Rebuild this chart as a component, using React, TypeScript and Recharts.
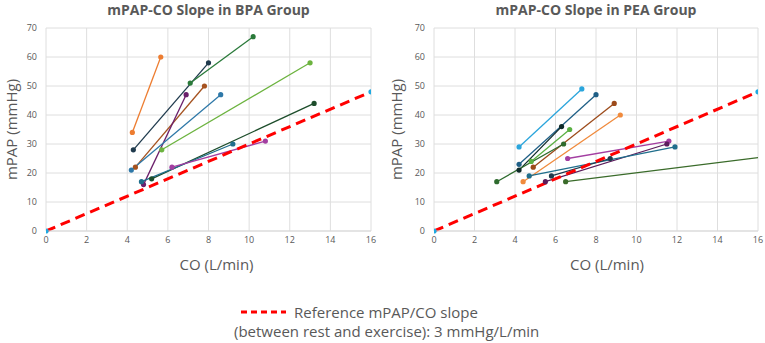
import React from 'react';
import { LineChart, Line, XAxis, YAxis, CartesianGrid } from 'recharts';

// BPA group, one segment per patient: rest -> exercise
const BPA_CO_REST = [4.25, 4.3, 7.1, 4.4, 4.8, 4.2, 5.7, 5.2, 4.7, 6.2];
const BPA_CO_EXERCISE = [5.65, 8.0, 10.2, 7.8, 6.9, 8.6, 13.0, 13.2, 9.2, 10.8];
const BPA_MPAP_REST = [34, 28, 51, 22, 16, 21, 28, 18, 17, 22];
const BPA_MPAP_EXERCISE = [60, 58, 67, 50, 47, 47, 58, 44, 30, 31];
const BPA_COLORS = [
  '#ed7d31', // orange
  '#1f3a4d', // navy
  '#2a7a3a', // green
  '#a5521f', // brown
  '#6b1f6b', // plum
  '#2e78a8', // blue
  '#6cb33f', // light green
  '#1d4d2b', // dark green
  '#1f6e8c', // teal
  '#a33ea1', // magenta
];

// PEA group, one segment per patient: rest -> exercise
const PEA_CO_REST = [4.2, 4.2, 4.9, 4.4, 4.2, 4.8, 3.1, 6.6, 5.5, 4.7, 5.8, 6.5];
const PEA_CO_EXERCISE = [7.3, 8.0, 8.9, 9.2, 6.3, 6.7, 6.4, 11.6, 11.5, 11.9, 8.7, 18.5];
const PEA_MPAP_REST = [29, 23, 22, 17, 21, 24, 17, 25, 17, 19, 19, 17];
const PEA_MPAP_EXERCISE = [49, 47, 44, 40, 36, 35, 30, 31, 30, 29, 25, 27.5];
const PEA_COLORS = [
  '#2aa5dc', // sky blue
  '#1f5f86', // steel blue
  '#9c4a1a', // brown
  '#f08a3c', // orange
  '#0f2a2a', // near black
  '#5ab043', // green
  '#2e6b2e', // dark green
  '#a33ea1', // magenta
  '#5c1d5c', // plum
  '#1f6e8c', // teal
  '#1f3a4d', // navy
  '#3a6b2a', // olive green
];

// Reference slope of 3 mmHg/L/min
const REF_CO = [0, 16];
const REF_MPAP = [0, 48];

const X_TICKS = [0, 2, 4, 6, 8, 10, 12, 14, 16];
const Y_TICKS = [0, 10, 20, 30, 40, 50, 60, 70];

const TEXT_COLOR = '#595959';
const FONT = '"Open Sans", "Noto Sans", sans-serif';

interface Point { co: number; mpap: number }
interface Segment { color: string; points: Point[] }

const buildSegments = (
  coRest: number[], coEx: number[], mRest: number[], mEx: number[], colors: string[]
): Segment[] =>
  colors.map((color, i) => ({
    color,
    points: [
      { co: coRest[i], mpap: mRest[i] },
      { co: coEx[i], mpap: mEx[i] },
    ],
  }));

const refPoints: Point[] = REF_CO.map((co, i) => ({ co, mpap: REF_MPAP[i] }));

interface PanelProps {
  title: string;
  segments: Segment[];
  left: number;
  width: number;
  yAxisWidth: number;
  marginRight: number;
  labelShift: number;
}

const SlopePanel: React.FC<PanelProps> = ({ title, segments, left, width, yAxisWidth, marginRight, labelShift }) => {
  const plotCenter = yAxisWidth + (width - yAxisWidth - marginRight) / 2;
  return (
    <div style={{ position: 'absolute', left, top: 0, width, height: 275 }}>
      <div style={{
        position: 'absolute',
        left: plotCenter - 150,
        top: 0,
        width: 300,
        textAlign: 'center',
        fontFamily: FONT,
        fontWeight: 700,
        fontSize: 14,
        lineHeight: '20px',
        color: TEXT_COLOR,
      }}>
        {title}
      </div>
      <LineChart width={width} height={275} margin={{ top: 28, right: marginRight, bottom: 4, left: 0 }}>
        <CartesianGrid stroke="#dedede" strokeWidth={1} />
        <XAxis
          type="number"
          dataKey="co"
          domain={[0, 16]}
          ticks={X_TICKS}
          allowDataOverflow
          height={40}
          tickLine={false}
          axisLine={{ stroke: '#d9d9d9' }}
          tickMargin={0}
          tick={{ fill: TEXT_COLOR, fontSize: 9, fontFamily: FONT }}
          label={{
            content: (props: any) => {
              const vb = props.viewBox;
              return (
                <text
                  x={vb.x + vb.width / 2 + labelShift}
                  y={vb.y + 33}
                  textAnchor="middle"
                  dominantBaseline="central"
                  fill={TEXT_COLOR}
                  fontSize={15}
                  fontFamily={FONT}
                >
                  CO (L/min)
                </text>
              );
            },
          }}
        />
        <YAxis
          type="number"
          dataKey="mpap"
          domain={[0, 70]}
          ticks={Y_TICKS}
          width={yAxisWidth}
          tickLine={false}
          axisLine={false}
          tickMargin={3}
          tick={{ fill: TEXT_COLOR, fontSize: 9, fontFamily: FONT }}
          label={{
            content: (props: any) => {
              const vb = props.viewBox;
              const cx = vb.x + 11;
              const cy = vb.y + vb.height / 2;
              return (
                <text
                  x={cx}
                  y={cy}
                  transform={`rotate(-90 ${cx} ${cy})`}
                  textAnchor="middle"
                  dominantBaseline="central"
                  fill={TEXT_COLOR}
                  fontSize={15}
                  fontFamily={FONT}
                >
                  mPAP (mmHg)
                </text>
              );
            },
          }}
        />
        {segments.map((s, i) => (
          <Line
            key={i}
            data={s.points}
            dataKey="mpap"
            type="linear"
            stroke={s.color}
            strokeWidth={1.3}
            dot={{ r: 2.6, fill: s.color, stroke: s.color, strokeWidth: 0 }}
            activeDot={false}
            isAnimationActive={false}
          />
        ))}
        {/* reference slope line */}
        <Line
          data={refPoints}
          dataKey="mpap"
          type="linear"
          stroke="#ff0000"
          strokeWidth={3}
          strokeDasharray="10 6"
          dot={{ r: 2.6, fill: '#1fa9e1', stroke: '#1fa9e1', strokeWidth: 0 }}
          activeDot={false}
          isAnimationActive={false}
        />
      </LineChart>
    </div>
  );
};

const App: React.FC = () => {
  const bpa = buildSegments(BPA_CO_REST, BPA_CO_EXERCISE, BPA_MPAP_REST, BPA_MPAP_EXERCISE, BPA_COLORS);
  const pea = buildSegments(PEA_CO_REST, PEA_CO_EXERCISE, PEA_MPAP_REST, PEA_MPAP_EXERCISE, PEA_COLORS);

  return (
    <div style={{ position: 'absolute', left: 0, top: 0, width: 765, height: 343, background: '#fff', overflow: 'hidden' }}>
      <SlopePanel title="mPAP-CO Slope in BPA Group" segments={bpa} left={0} width={385} yAxisWidth={46} marginRight={14} labelShift={8} />
      <SlopePanel title="mPAP-CO Slope in PEA Group" segments={pea} left={385} width={380} yAxisWidth={49} marginRight={7} labelShift={11} />
      {/* legend */}
      <div style={{ position: 'absolute', left: 0, top: 302, width: 765, fontFamily: FONT, fontSize: 15, color: TEXT_COLOR }}>
        <div style={{ position: 'absolute', left: 241, top: 0, height: 20, display: 'flex', alignItems: 'center' }}>
          <svg width={45} height={6} style={{ marginRight: 8 }}>
            <line x1={0} y1={3} x2={45} y2={3} stroke="#ff0000" strokeWidth={3} strokeDasharray="6 4" />
          </svg>
          <span style={{ lineHeight: '20px', whiteSpace: 'nowrap' }}>Reference mPAP/CO slope</span>
        </div>
        <div style={{ position: 'absolute', left: 234, top: 19, lineHeight: '20px', whiteSpace: 'nowrap' }}>
          (between rest and exercise): 3 mmHg/L/min
        </div>
      </div>
    </div>
  );
};

export default App;
